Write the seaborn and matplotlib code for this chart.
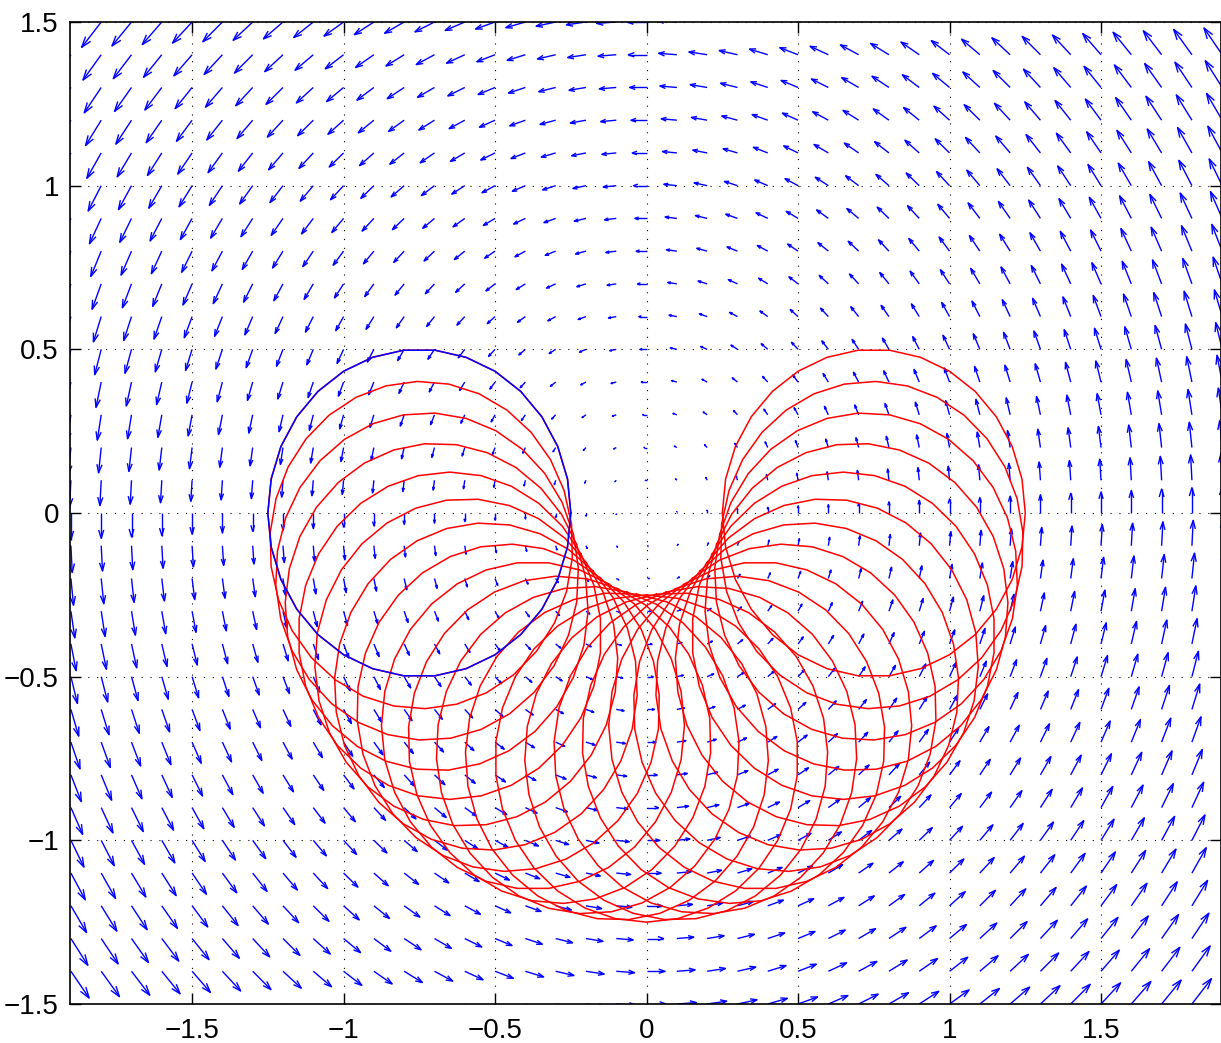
import numpy as np
import pandas as pd
import seaborn as sns
import matplotlib.pyplot as plt
from matplotlib.collections import LineCollection

# quiver grid (tails of the arrows) and field scale
x_grid = np.round(np.arange(-1.9, 1.95, 0.1), 2)
y_grid = np.round(np.arange(-1.5, 1.55, 0.1), 2)
arrow_scale = 0.043          # data units of arrow per unit of field

# circle: centre, radius, polygon resolution, rotation steps about the origin
circle_center = [-0.75, 0.0]
circle_radius = 0.5
circle_points = 31
rot_steps_deg = [7.5 * k for k in range(25)]

tick_vals = [-1.5, -1, -0.5, 0, 0.5, 1, 1.5]
tick_labels = ["\u22121.5", "\u22121", "\u22120.5", "0", "0.5", "1", "1.5"]

sns.set_style("ticks")
plt.rcParams["font.family"] = ["Liberation Sans", "DejaVu Sans"]

fig = plt.figure(figsize=(12.21, 10.43), dpi=100)
ax = fig.add_axes([70 / 1221, 1 - 1004 / 1043, 1151 / 1221, 982 / 1043])

###############################################
# rotation field, drawn MATLAB-style (open heads)
###############################################
X, Y = np.meshgrid(x_grid, y_grid)
U = -Y * arrow_scale
V = X * arrow_scale
alpha, beta = 0.33, 0.33
segs = []
for x, y, u, v in zip(X.ravel(), Y.ravel(), U.ravel(), V.ravel()):
    segs.append([(x, y), (x + u, y + v)])
    segs.append([(x + u - alpha * (u + beta * v), y + v - alpha * (v - beta * u)),
                 (x + u, y + v),
                 (x + u - alpha * (u - beta * v), y + v - alpha * (v + beta * u))])
ax.add_collection(LineCollection(segs, colors="blue", linewidths=1.0, zorder=2))

###############################################
# rotated circles
###############################################
t = np.linspace(0, 2 * np.pi, circle_points)
cx = circle_center[0] + circle_radius * np.cos(t)
cy = circle_center[1] + circle_radius * np.sin(t)
rows = []
for k, ang in enumerate(rot_steps_deg):
    a = np.deg2rad(ang)
    rx = cx * np.cos(a) - cy * np.sin(a)
    ry = cx * np.sin(a) + cy * np.cos(a)
    rows.append(pd.DataFrame({"x": rx, "y": ry, "step": k, "order": np.arange(len(t))}))
df = pd.concat(rows, ignore_index=True)

sns.lineplot(data=df, x="x", y="y", units="step", estimator=None, sort=False,
             color="red", linewidth=1.1, ax=ax, zorder=3)
first = df[df["step"] == 0]
sns.lineplot(data=first, x="x", y="y", estimator=None, sort=False,
             color="blue", linewidth=1.1, ax=ax, zorder=4)

###############################################
# axes styling
###############################################
ax.set_xlim(-1.903, 1.896)
ax.set_ylim(-1.5, 1.5)
ax.set_xticks(tick_vals)
ax.set_xticklabels(tick_labels)
ax.set_yticks(tick_vals)
ax.set_yticklabels(tick_labels)
ax.set(xlabel="", ylabel="")
ax.grid(True, color="black", linestyle=(0, (1, 7)), linewidth=0.8, zorder=0)
ax.set_axisbelow(True)
ax.tick_params(direction="in", top=True, right=True, length=8, width=1.0,
               labelsize=20, colors="black")
ax.tick_params(axis="x", pad=10)
ax.tick_params(axis="y", pad=8)
for s in ax.spines.values():
    s.set_visible(True)
    s.set_color("black")
    s.set_linewidth(1.2)

fig.savefig("out.png", dpi=100)
